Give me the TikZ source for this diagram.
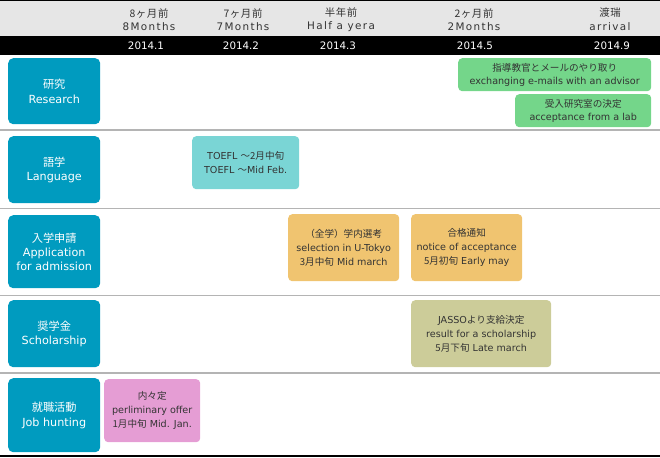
\documentclass[tikz,border=0pt]{standalone}
\usepackage{fontspec}
\setmainfont{DejaVu Sans}
\newfontfamily\jp{Noto Sans CJK JP}
\newfontfamily\hdrfont[LetterSpace=13]{DejaVu Sans}
\newfontfamily\hdrjp[LetterSpace=6]{Noto Sans CJK JP}
\definecolor{hdrgray}{HTML}{E6E6E6}
\definecolor{sepgray}{HTML}{B4B4B4}
\definecolor{catblue}{HTML}{009BBF}
\definecolor{evgreen}{HTML}{74D68A}
\definecolor{evteal}{HTML}{7AD5D5}
\definecolor{evorange}{HTML}{F0C470}
\definecolor{evolive}{HTML}{CCCC99}
\definecolor{evpink}{HTML}{E59DD4}
\definecolor{txtdark}{HTML}{333333}
\tikzset{
  catbox/.style={fill=catblue, rounded corners=5pt, text=white, align=center,
    anchor=north west, inner sep=0pt, font=\fontsize{11.2}{14.5}\selectfont},
  evbox/.style={rounded corners=4pt, text=txtdark, align=center,
    anchor=north west, inner sep=0pt, font=\fontsize{9.6}{14}\selectfont},
  hdrtxt/.style={text=txtdark, align=center, inner sep=0pt, font=\fontsize{10.4}{13.6}\selectfont},
  yeartxt/.style={text=white, inner sep=0pt, font=\fontsize{10.3}{12}\selectfont},
  sepline/.style={draw=sepgray, line width=1.2pt}
}
\begin{document}
\begin{tikzpicture}[x=1pt, y=-1pt]
\useasboundingbox (0,0) rectangle (660,457);
% header
\fill[hdrgray] (0,0) rectangle (660,36);
\fill[black] (0,0) rectangle (660,1.5);
\fill[black] (0,36) rectangle (660,55.5);
\node[hdrtxt] (h1) at (149,19.5) {{\hdrjp 8ヶ月前}\\{\hdrfont 8Months}};
\node[hdrtxt] (h2) at (243,19.5) {{\hdrjp 7ヶ月前}\\{\hdrfont 7Months}};
\node[hdrtxt] (h3) at (341,19.5) {{\hdrjp 半年前}\\{\hdrfont Half a yera}};
\node[hdrtxt] (h4) at (474,19.5) {{\hdrjp 2ヶ月前}\\{\hdrfont 2Months}};
\node[hdrtxt] (h5) at (610,19.5) {{\hdrjp 渡瑞}\\{\hdrfont arrival}};
\node[yeartxt] (y1) at (146,46) {2014.1};
\node[yeartxt] (y2) at (241,46) {2014.2};
\node[yeartxt] (y3) at (338,46) {2014.3};
\node[yeartxt] (y4) at (475,46) {2014.5};
\node[yeartxt] (y5) at (612,46) {2014.9};
% separators
\draw[sepline] (0,130) -- (660,130);
\draw[sepline] (0,208.5) -- (660,208.5);
\draw[sepline] (0,295.5) -- (660,295.5);
\draw[sepline] (0,373) -- (660,373);
\draw[black, line width=1.6pt] (0,456) -- (660,456);
% categories
\node[catbox, minimum width=92pt, minimum height=66pt] (r1) at (8,58) {{\jp 研究}\\Research};
\node[catbox, minimum width=92pt, minimum height=67pt] (r2) at (8,136) {{\jp 語学}\\Language};
\node[catbox, minimum width=92pt, minimum height=73pt, font=\fontsize{11.2}{14}\selectfont] (r3) at (8,215) {{\jp 入学申請}\\Application\\for admission};
\node[catbox, minimum width=92pt, minimum height=67pt] (r4) at (8,300) {{\jp 奨学金}\\Scholarship};
\node[catbox, minimum width=92pt, minimum height=74pt] (r5) at (8,378) {{\jp 就職活動}\\Job hunting};
% events
\node[evbox, fill=evgreen, minimum width=193pt, minimum height=33pt, font=\fontsize{9.6}{13.4}\selectfont] (e1) at (458,58) {{\jp 指導教官とメールのやり取り}\\exchanging e-mails with an advisor};
\node[evbox, fill=evgreen, minimum width=136pt, minimum height=33pt, font=\fontsize{9.6}{13.4}\selectfont] (e2) at (515,94) {{\jp 受入研究室の決定}\\acceptance from a lab};
\node[evbox, fill=evteal, minimum width=107pt, minimum height=53pt] (e3) at (192,136) {TOEFL {\jp ～2月中旬}\\TOEFL {\jp ～}Mid Feb.};
\node[evbox, fill=evorange, minimum width=111pt, minimum height=67pt] (e4) at (288,214) {{\jp （全学）学内選考}\\selection in U-Tokyo\\{\jp 3月中旬} Mid march};
\node[evbox, fill=evorange, minimum width=111pt, minimum height=67pt] (e5) at (411,214) {{\jp 合格通知}\\notice of acceptance\\{\jp 5月初旬} Early may};
\node[evbox, fill=evolive, minimum width=140pt, minimum height=67pt] (e6) at (411,300) {JASSO{\jp より支給決定}\\result for a scholarship\\{\jp 5月下旬} Late march};
\node[evbox, fill=evpink, minimum width=96pt, minimum height=63pt] (e7) at (104,379) {{\jp 内々定}\\perliminary offer\\{\jp 1月中旬} Mid. Jan.};
\end{tikzpicture}
\end{document}
